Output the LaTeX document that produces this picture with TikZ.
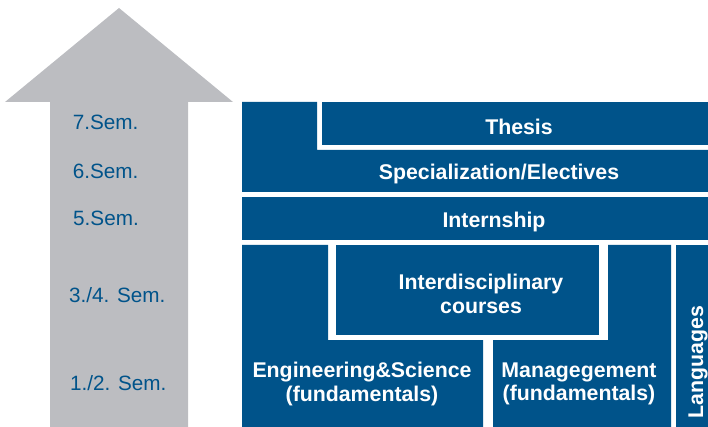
\documentclass[tikz,border=0pt]{standalone}
\usepackage{fontspec}
\setmainfont{Liberation Sans}
\usetikzlibrary{positioning}
\definecolor{studyblue}{RGB}{0,83,138}
\definecolor{semgray}{RGB}{188,189,193}

\begin{document}
\begin{tikzpicture}[x=1pt,y=-1pt,
    block/.style={fill=studyblue},
    blocktext/.style={text=white,align=center,font=\bfseries\fontsize{21.3}{23.3}\selectfont},
    semtext/.style={text=studyblue,anchor=base west,inner sep=0pt,font=\fontsize{20.7}{23}\selectfont}]
  \useasboundingbox (0,0) rectangle (708,427);

  % semester arrow
  \fill[semgray] (50,427) -- (50,102) -- (5,102) -- (119,8) -- (233,102)
                 -- (188,102) -- (188,427) -- cycle;
  \node[semtext] (s7)  at (72.7,130)   {7.Sem.};
  \node[semtext] (s6)  at (72.7,178.5) {6.Sem.};
  \node[semtext] (s5)  at (73,226)     {5.Sem.};
  \node[semtext] (s34) at (69,302.7)   {3./4. Sem.};
  \node[semtext] (s12) at (70,390)     {1./2. Sem.};

  % study blocks
  \fill[block] (322,102) rectangle (708,145);
  \fill[block] (242,102) -- (317,102) -- (317,150) -- (708,150) -- (708,192)
               -- (242,192) -- cycle;
  \fill[block] (242,197) rectangle (708,240);
  \fill[block] (336,245) rectangle (599,335);
  \fill[block] (242,245) -- (328,245) -- (328,340) -- (483,340) -- (483,427)
               -- (242,427) -- cycle;
  \fill[block] (608,245) -- (671,245) -- (671,427) -- (493,427) -- (493,340)
               -- (608,340) -- cycle;
  \fill[block] (676,245) rectangle (708,427);

  \node[blocktext,anchor=base] (thesis) at (519,135)   {Thesis};
  \node[blocktext,anchor=base] (spec)   at (499,179.3) {Specialization/Electives};
  \node[blocktext,anchor=base] (intern) at (494,227.7) {Internship};
  \node[blocktext] (inter) at (481,294) {Interdisciplinary\\courses};
  \node[blocktext] (eng)   at (362,384) {Engineering\&Science\\(fundamentals)};
  \node[blocktext] (mgmt)  at (579,384) {Managegement\\(fundamentals)};
  \node[blocktext,rotate=90] (lang) at (698,362) {Languages};
\end{tikzpicture}
\end{document}
